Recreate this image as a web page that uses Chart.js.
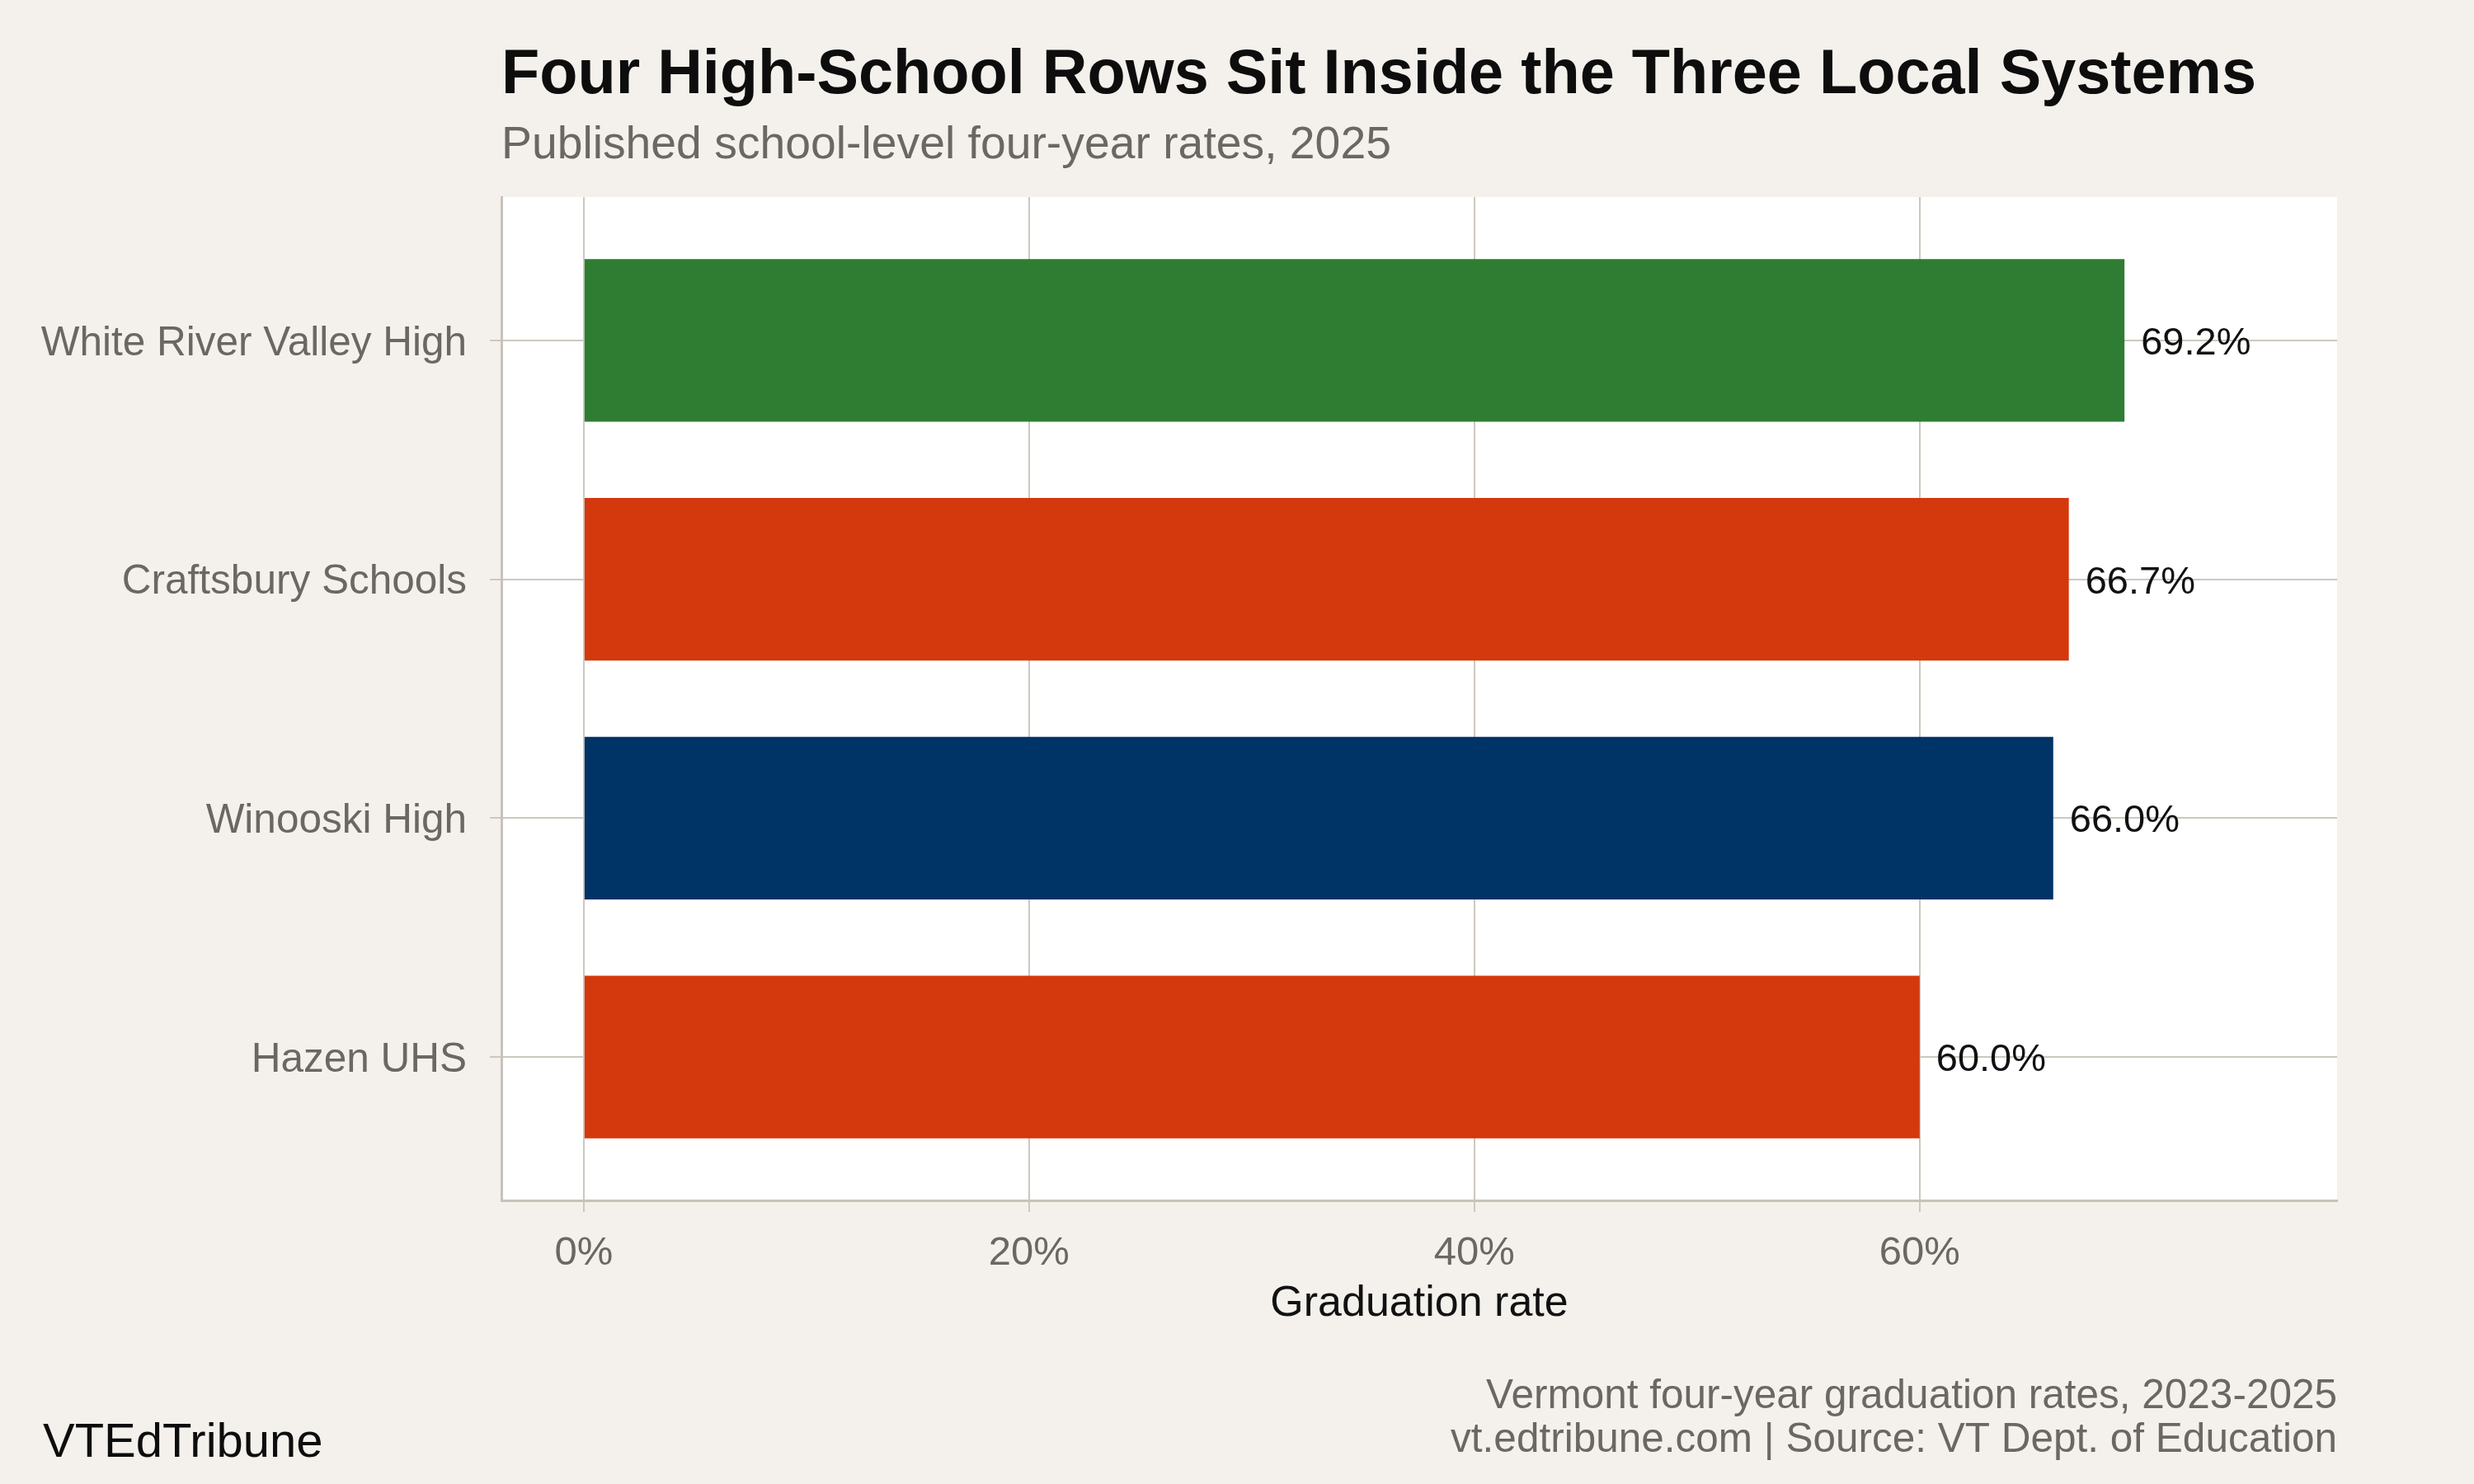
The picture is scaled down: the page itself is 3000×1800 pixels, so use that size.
<!DOCTYPE html>
<html>
<head>
<meta charset="utf-8">
<title>Four High-School Rows Sit Inside the Three Local Systems</title>
<script src="https://cdn.jsdelivr.net/npm/chart.js@4.4.1/dist/chart.umd.min.js"></script>
<style>
  html, body { margin: 0; padding: 0; background: #f4f1ec; }
  #wrap { width: 3000px; height: 1800px; }
</style>
</head>
<body>
<div id="wrap"><canvas id="gradChart" width="3000" height="1800"></canvas></div>
<script>
// school-level four-year rates, 2025 (top to bottom)
const schools = ['White River Valley High', 'Craftsbury Schools', 'Winooski High', 'Hazen UHS'];
const gradRates = [69.2, 66.7, 66.0, 60.0];
const barColors = ['#2e7d32', '#d4380d', '#003366', '#d4380d'];
const xTickValues = [0, 20, 40, 60];

const FONT = "'Liberation Sans', Arial, sans-serif";
const GREY_TEXT = '#6b6762';
const GRID = '#cdc8bf';

// background, white panel, titles and footer
const frame = {
  id: 'frame',
  beforeDraw(chart) {
    const { ctx, chartArea: a } = chart;
    ctx.save();
    ctx.fillStyle = '#f4f1ec';
    ctx.fillRect(0, 0, chart.width, chart.height);
    ctx.fillStyle = '#ffffff';
    ctx.fillRect(a.left, a.top, a.right - a.left, a.bottom - a.top);
    ctx.restore();
  },
  afterDraw(chart) {
    const { ctx, chartArea: a } = chart;
    ctx.save();
    ctx.textBaseline = 'alphabetic';

    ctx.textAlign = 'left';
    ctx.fillStyle = '#0d0d0d';
    ctx.font = `bold 75.7px ${FONT}`;
    ctx.fillText('Four High-School Rows Sit Inside the Three Local Systems', a.left, 113);

    ctx.fillStyle = GREY_TEXT;
    ctx.font = `55.3px ${FONT}`;
    ctx.fillText('Published school-level four-year rates, 2025', a.left, 192);

    ctx.textAlign = 'right';
    ctx.font = `49.5px ${FONT}`;
    ctx.fillText('Vermont four-year graduation rates, 2023-2025', a.right, 1708);
    ctx.fillText('vt.edtribune.com | Source: VT Dept. of Education', a.right, 1761);

    ctx.textAlign = 'left';
    ctx.fillStyle = '#0d0d0d';
    ctx.font = `58px ${FONT}`;
    ctx.fillText('VTEdTribune', 52, 1767);
    ctx.restore();
  }
};

// value labels at the end of each bar
const valueLabels = {
  id: 'valueLabels',
  afterDatasetsDraw(chart) {
    const { ctx } = chart;
    const meta = chart.getDatasetMeta(0);
    ctx.save();
    ctx.font = `47px ${FONT}`;
    ctx.fillStyle = '#111111';
    ctx.textAlign = 'left';
    ctx.textBaseline = 'alphabetic';
    meta.data.forEach((bar, i) => {
      ctx.fillText(gradRates[i].toFixed(1) + '%', bar.x + 20, bar.y + 17);
    });
    ctx.restore();
  }
};

function buildChart() {
  const ctx = document.getElementById('gradChart').getContext('2d');

  new Chart(ctx, {
    type: 'bar',
    data: {
      datasets: [{
        label: 'Graduation rate',
        data: gradRates.map((v, i) => ({ x: v, y: i })),
        backgroundColor: barColors,
        borderWidth: 0,
        categoryPercentage: 1,
        barPercentage: 0.68
      }]
    },
    options: {
      indexAxis: 'y',
      responsive: false,
      devicePixelRatio: 1,
      animation: false,
      layout: { padding: { top: 239, right: 166, bottom: 0, left: 0 } },
      plugins: {
        legend: { display: false },
        tooltip: { enabled: false }
      },
      scales: {
        x: {
          type: 'linear',
          min: -3.7,
          max: 78.75,
          afterBuildTicks: scale => { scale.ticks = xTickValues.map(v => ({ value: v })); },
          afterFit: scale => { scale.height = 344; },
          grid: { color: GRID, lineWidth: 2, tickLength: 14, tickColor: GRID },
          border: { display: true, color: '#c8c2b8', width: 3 },
          ticks: {
            color: GREY_TEXT,
            padding: 21,
            font: { family: FONT, size: 49 },
            callback: v => v + '%'
          },
          title: {
            display: true,
            text: 'Graduation rate',
            color: '#111111',
            font: { family: FONT, size: 52 },
            padding: { top: 0, bottom: 187 }
          }
        },
        y: {
          type: 'linear',
          min: -0.6,
          max: 3.6,
          reverse: true,
          offset: false,
          afterBuildTicks: scale => { scale.ticks = schools.map((s, i) => ({ value: i })); },
          afterFit: scale => { scale.width = 608; },
          grid: { offset: false, color: GRID, lineWidth: 2, tickLength: 14, tickColor: GRID },
          border: { display: true, color: '#c8c2b8', width: 3 },
          ticks: {
            color: GREY_TEXT,
            padding: 28,
            labelOffset: 4,
            font: { family: FONT, size: 49.5 },
            callback: v => schools[v]
          }
        }
      }
    },
    plugins: [frame, valueLabels]
  });
}

window.onload = buildChart;
</script>
</body>
</html>
